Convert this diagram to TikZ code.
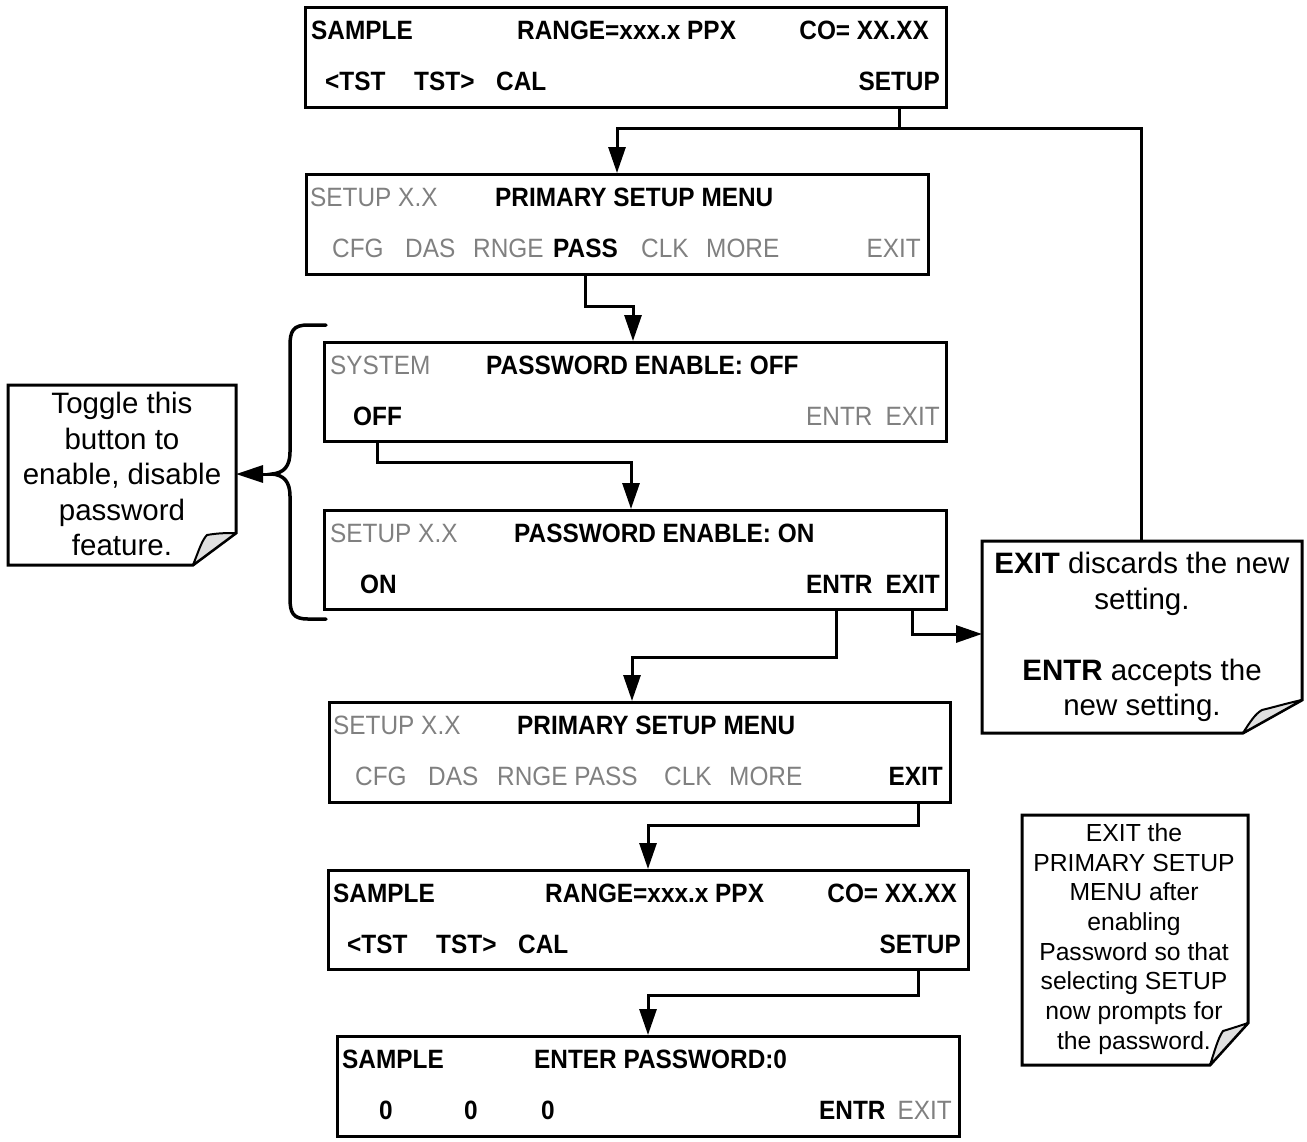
\documentclass[tikz,border=0pt]{standalone}
\usepackage{fontspec}
\setmainfont{Liberation Sans}
\newfontfamily\lcd{Liberation Sans}[FakeStretch=0.92]
\usetikzlibrary{arrows.meta,calc}
\definecolor{lcdgray}{HTML}{808080}
\definecolor{flapgray}{HTML}{E0E0E0}
\begin{document}
\begin{tikzpicture}[x=1pt,y=-1pt,
  lcdbox/.style={draw,line width=3pt,rectangle,inner sep=0pt,anchor=north west},
  tb/.style={inner sep=0pt,font=\lcd\fontsize{26.5}{30}\selectfont\bfseries},
  tg/.style={inner sep=0pt,font=\lcd\fontsize{26.5}{30}\selectfont,text=lcdgray},
  ln/.style={line width=3pt},
  ar/.style={line width=3pt,-{Triangle[length=26pt,width=17pt]}},
  notetext/.style={inner sep=0pt,align=center,font=\fontsize{29.5}{35.5}\selectfont},
  noteline/.style={line width=3pt,line join=miter},
  flap/.style={line width=2pt,fill=flapgray,line join=round}
]
\useasboundingbox (0,0) rectangle (1307,1141);

% ---------- Box 1 ----------
\node[lcdbox,minimum width=641,minimum height=100] (b1) at (304,6) {};
\node[tb,anchor=base west] (b1s) at (311,39.5) {SAMPLE};
\node[tb,anchor=base west] (b1r) at (517,39.5) {RANGE=xxx.x PPX};
\node[tb,anchor=base east] (b1c) at (929,39.5) {CO= XX.XX};
\node[tb,anchor=base west] (b1t1) at (325,90.5) {<TST};
\node[tb,anchor=base west] (b1t2) at (414,90.5) {TST>};
\node[tb,anchor=base west] (b1cal) at (496,90.5) {CAL};
\node[tb,anchor=base east] (b1setup) at (940,90.5) {SETUP};

% ---------- Box 2 ----------
\node[lcdbox,minimum width=622,minimum height=100] (b2) at (305,173) {};
\node[tg,anchor=base west] (b2s) at (310,206.5) {SETUP X.X};
\node[tb,anchor=base west] (b2m) at (495,206.5) {PRIMARY SETUP MENU};
\node[tg,anchor=base west] (b2cfg) at (332,257.5) {CFG};
\node[tg,anchor=base west] (b2das) at (405,257.5) {DAS};
\node[tg,anchor=base west] (b2rnge) at (473,257.5) {RNGE};
\node[tb,anchor=base west] (b2pass) at (553,257.5) {PASS};
\node[tg,anchor=base west] (b2clk) at (641,257.5) {CLK};
\node[tg,anchor=base west] (b2more) at (706,257.5) {MORE};
\node[tg,anchor=base east] (b2exit) at (921,257.5) {EXIT};

% ---------- Box 3 ----------
\node[lcdbox,minimum width=622,minimum height=99] (b3) at (323,341) {};
\node[tg,anchor=base west] (b3s) at (330,374.5) {SYSTEM};
\node[tb,anchor=base west] (b3m) at (486,374.5) {PASSWORD ENABLE: OFF};
\node[tb,anchor=base west] (b3off) at (353,425.5) {OFF};
\node[tg,anchor=base west] (b3entr) at (806,425.5) {ENTR};
\node[tg,anchor=base east] (b3exit) at (940,425.5) {EXIT};

% ---------- Box 4 ----------
\node[lcdbox,minimum width=622,minimum height=99] (b4) at (323,509) {};
\node[tg,anchor=base west] (b4s) at (330,542.5) {SETUP X.X};
\node[tb,anchor=base west] (b4m) at (514,542.5) {PASSWORD ENABLE: ON};
\node[tb,anchor=base west] (b4on) at (360,593.5) {ON};
\node[tb,anchor=base west] (b4entr) at (806,593.5) {ENTR};
\node[tb,anchor=base east] (b4exit) at (940,593.5) {EXIT};

% ---------- Box 5 ----------
\node[lcdbox,minimum width=621,minimum height=100] (b5) at (328,701) {};
\node[tg,anchor=base west] (b5s) at (333,734.5) {SETUP X.X};
\node[tb,anchor=base west] (b5m) at (517,734.5) {PRIMARY SETUP MENU};
\node[tg,anchor=base west] (b5cfg) at (355,785.5) {CFG};
\node[tg,anchor=base west] (b5das) at (428,785.5) {DAS};
\node[tg,anchor=base west] (b5rp) at (497,785.5) {RNGE PASS};
\node[tg,anchor=base west] (b5clk) at (664,785.5) {CLK};
\node[tg,anchor=base west] (b5more) at (729,785.5) {MORE};
\node[tb,anchor=base east] (b5exit) at (943,785.5) {EXIT};

% ---------- Box 6 ----------
\node[lcdbox,minimum width=640,minimum height=99] (b6) at (327,869) {};
\node[tb,anchor=base west] (b6s) at (333,902.5) {SAMPLE};
\node[tb,anchor=base west] (b6r) at (545,902.5) {RANGE=xxx.x PPX};
\node[tb,anchor=base east] (b6c) at (957,902.5) {CO= XX.XX};
\node[tb,anchor=base west] (b6t1) at (347,953.5) {<TST};
\node[tb,anchor=base west] (b6t2) at (436,953.5) {TST>};
\node[tb,anchor=base west] (b6cal) at (518,953.5) {CAL};
\node[tb,anchor=base east] (b6setup) at (961,953.5) {SETUP};

% ---------- Box 7 ----------
\node[lcdbox,minimum width=622,minimum height=100] (b7) at (336,1035) {};
\node[tb,anchor=base west] (b7s) at (342,1068.5) {SAMPLE};
\node[tb,anchor=base west] (b7m) at (534,1068.5) {ENTER PASSWORD:0};
\node[tb,anchor=base west] (b7z1) at (379,1119.5) {0};
\node[tb,anchor=base west] (b7z2) at (464,1119.5) {0};
\node[tb,anchor=base west] (b7z3) at (541,1119.5) {0};
\node[tb,anchor=base west] (b7entr) at (819,1119.5) {ENTR};
\node[tg,anchor=base east] (b7exit) at (952,1119.5) {EXIT};

% ---------- Note 1 ----------
\draw[noteline] (8,385) -- (236,385) -- (236,533) -- (193,565) -- (8,565) -- cycle;
\draw[flap] (193,565) .. controls (199,550) and (202,540) .. (207,535) .. controls (218,533) and (228,533) .. (236,533) -- cycle;
\node[notetext] (n1) at (122,474) {Toggle this\\button to\\enable, disable\\password\\feature.};

% ---------- Note 2 ----------
\draw[noteline] (982,541) -- (1302,541) -- (1302,700) -- (1243,733) -- (982,733) -- cycle;
\draw[flap] (1243,733) .. controls (1250,722) and (1255,714) .. (1262,710) .. controls (1278,706) and (1292,702) .. (1302,700) -- cycle;
\node[notetext] (n2) at (1142,637) {\textbf{EXIT} discards the new\\setting.\\[35.5pt]\textbf{ENTR} accepts the\\new setting.};
\coordinate (n2w) at (982,634);
\coordinate (n2n) at (1141,541);

% ---------- Note 3 ----------
\draw[noteline] (1022,815) -- (1248,815) -- (1248,1023) -- (1210,1065) -- (1022,1065) -- cycle;
\draw[flap] (1210,1065) .. controls (1215,1050) and (1218,1038) .. (1223,1031) .. controls (1233,1028) and (1242,1025) .. (1248,1023) -- cycle;
\node[notetext,font=\fontsize{24.7}{29.7}\selectfont] (n3) at (1134,939) {EXIT the\\PRIMARY SETUP\\MENU after\\enabling\\Password so that\\selecting SETUP\\now prompts for\\the password.};

% ---------- Brace ----------
\draw[line width=3.5pt,line cap=round] (326,325) -- (308,325) .. controls (293,325) and (290,331) .. (290,346) -- (290,452) .. controls (290,466) and (284,473) .. (272,474) .. controls (284,475) and (290,482) .. (290,496) -- (290,598) .. controls (290,613) and (293,619) .. (308,619) -- (326,619);
\coordinate (bt) at (273,474);
\draw[line width=3pt,-{Triangle[length=27pt,width=17pt]}] (bt) -- (n1.east -| 236,0);

% ---------- Connectors ----------
\coordinate (j1) at (617,128);
\draw[ar] (b1setup |- b1.south) |- (j1) -- (j1 |- b2.north);
\draw[ln] (n2n) |- (j1);
\coordinate (j2) at (633,306);
\draw[ar] (b2pass |- b2.south) |- (j2) -- (j2 |- b3.north);
\coordinate (j3) at (631,462);
\draw[ar] (b3off |- b3.south) |- (j3) -- (j3 |- b4.north);
\coordinate (j4) at (632,657);
\draw[ar] (836,608) |- (j4) -- (j4 |- b5.north);
\draw[ar] (b4exit |- b4.south) |- (n2w);
\coordinate (j5) at (648,825);
\draw[ar] (918,801) |- (j5) -- (j5 |- b6.north);
\coordinate (j6) at (648,995);
\draw[ar] (918,968) |- (j6) -- (j6 |- b7.north);
\end{tikzpicture}
\end{document}
